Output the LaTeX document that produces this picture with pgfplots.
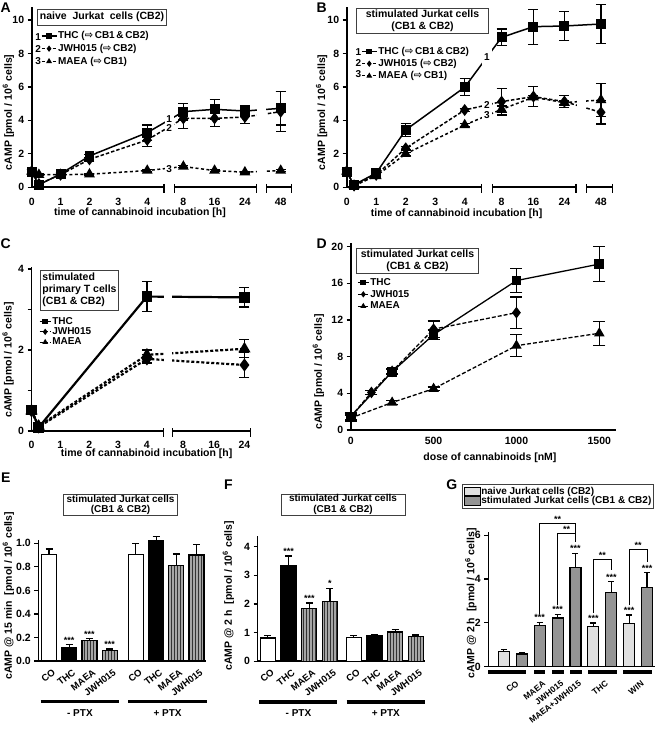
\documentclass[border=0pt]{standalone}
\usepackage{fontspec}
\setmainfont{Liberation Sans}
\newfontfamily\arrowfont{DejaVu Sans}
\usepackage{pgfplots}
\pgfplotsset{compat=1.18}
\usetikzlibrary{patterns}
\newcommand{\fs}[1]{\fontsize{#1}{#1}\selectfont\bfseries}

\pgfplotsset{
  base/.style={
    scale only axis, clip=false, axis lines*=left,
    axis line style={line width=1.6pt, black},
    tick align=outside, major tick length=4pt, minor tick length=4pt,
    tick style={line width=1.2pt, black},
    tick label style={font=\fs{10.5}},
    label style={font=\fs{10.5}},
    /pgf/number format/assume math mode=true,
    /pgf/number format/set thousands separator={},
    anchor=south west,
  },
  broken/.style={x axis line style={draw=none}, xtick style={draw=none}, xticklabel style={yshift=-3pt}},
  thc/.style={black, line width=1.5pt, mark=square*, mark size=4.2pt, mark options={solid, fill=black}},
  jwh/.style={black, line width=1.5pt, dash pattern=on 3.5pt off 2pt, mark=diamond*, mark size=4.8pt, mark options={solid, fill=black}},
  maea/.style={black, line width=1.5pt, dash pattern=on 3pt off 2.5pt, mark=triangle*, mark size=4.8pt, mark options={solid, fill=black}},
  eb/.style={error bars/.cd, y dir=both, y explicit, error bar style={line width=1.2pt, solid, black}, error mark options={rotate=90, line width=1.2pt, mark size=#1, black, solid}},
  eb/.default=5pt,
  ebp/.style={error bars/.cd, y dir=plus, y explicit, error bar style={line width=1.2pt, solid, black}, error mark options={rotate=90, line width=1.2pt, mark size=#1, black, solid}},
  ebp/.default=3.5pt,
  lg/.style 2 args={legend style={at={#1}, anchor=north west, draw=none, fill=none, inner sep=0pt, font=\fs{10}, row sep=#2, nodes={inner sep=1pt}}, legend cell align=left},
  limgA/.style={legend image code/.code={\draw[mark repeat=2,mark phase=2,##1] plot coordinates {(0pt,0pt) (7.5pt,0pt) (15pt,0pt)};}, legend image post style={mark size=2.3pt, line width=1.1pt}},
  limgC/.style={legend image code/.code={\draw[mark repeat=2,mark phase=2,##1] plot coordinates {(0pt,0pt) (5.5pt,0pt) (11pt,0pt)};}, legend image post style={mark size=2.3pt, line width=1.1pt}},
  barlab/.style={xtick style={draw=none}, xticklabel style={xshift=3pt, yshift=#1, rotate=38, anchor=north east, inner sep=1pt}},
}

\begin{document}
\begin{tikzpicture}
% ---------------- A ----------------
\begin{axis}[base, broken, at={(31.7pt,543.7pt)}, width=260pt, height=180.7pt,
  xmin=0, xmax=9, ymin=0, ymax=10.8,
  xtick={0,1,2,3,4,5.25,6.33,7.38,8.62}, xticklabels={0,1,2,3,4,8,16,24,48},
  ytick={0,2,4,6,8,10},
  xlabel={time of cannabinoid incubation [h]},
  xlabel style={at={(axis description cs:0.4165,-0.142)}, anchor=center},
  ylabel={cAMP [pmol / 10\textsuperscript{6} cells]},
  ylabel style={at={(axis description cs:-0.09,0.415)}, anchor=center},
  lg={(axis description cs:0.035,0.868)}{1.9pt}, limgA]
\addplot[thc, eb] coordinates {(0,0.9) +- (0,0.15) (0.25,0.15) +- (0,0.05) (1,0.8) +- (0,0.1) (2,1.87) +- (0,0.1) (4,3.27) +- (0,0.45) (5.25,4.52) +- (0,0.5) (6.33,4.66) +- (0,0.6) (7.38,4.56) +- (0,0.35) (8.62,4.72) +- (0,1.0)};
\addlegendentry{THC ({\arrowfont ⇨}\,CB1\,\&\,CB2)}
\addplot[jwh, eb] coordinates {(0,0.95) +- (0,0.1) (0.25,0.2) +- (0,0.05) (1,0.75) +- (0,0.1) (2,1.67) +- (0,0.1) (4,2.83) +- (0,0.4) (5.25,4.12) +- (0,0.6) (6.33,4.12) +- (0,0.5) (7.38,4.2) +- (0,0.4) (8.62,4.52) +- (0,1.2)};
\addlegendentry{JWH015 ({\arrowfont ⇨}\,CB2)}
\addplot[maea, eb] coordinates {(0,0.95) +- (0,0.1) (0.25,0.75) +- (0,0.05) (1,0.75) +- (0,0.05) (2,0.78) +- (0,0.05) (4,1.0) +- (0,0.05) (5.25,1.24) +- (0,0.05) (6.33,1.0) +- (0,0.05) (7.38,0.9) +- (0,0.05) (8.62,1.0) +- (0,0.05)};
\addlegendentry{MAEA ({\arrowfont ⇨}\,CB1)}
\fill[white] (axis cs:4.6,-0.6) rectangle (axis cs:4.91,9);
\fill[white] (axis cs:7.79,-0.6) rectangle (axis cs:8.11,9);
\draw[line width=1.6pt] (axis cs:0,0) -- (axis cs:4.58,0);
\draw[line width=1.6pt] (axis cs:4.93,0) -- (axis cs:7.77,0);
\draw[line width=1.6pt] (axis cs:8.13,0) -- (axis cs:9,0);
\draw[line width=1.2pt] (axis cs:4.58,0.2) -- (axis cs:4.58,-0.35);
\draw[line width=1.2pt] (axis cs:4.93,0.2) -- (axis cs:4.93,-0.35);
\draw[line width=1.2pt] (axis cs:7.77,0.2) -- (axis cs:7.77,-0.35);
\draw[line width=1.2pt] (axis cs:8.13,0.2) -- (axis cs:8.13,-0.35);
\draw[line width=1.2pt] (axis cs:9,0.2) -- (axis cs:9,-0.35);
\node[font=\fs{10}] at (axis cs:4.76,4.08) {1};
\node[font=\fs{10}] at (axis cs:4.76,3.55) {2};
\node[font=\fs{10}] at (axis cs:4.76,1.09) {3};
\node[font=\fs{10}] at (axis description cs:0.025,0.83) {1};
\node[font=\fs{10}] at (axis description cs:0.025,0.765) {2};
\node[font=\fs{10}] at (axis description cs:0.025,0.699) {3};
\end{axis}

% ---------------- B ----------------
\begin{axis}[base, broken, at={(346.7pt,543.7pt)}, width=265.5pt, height=180.7pt,
  xmin=0, xmax=9, ymin=0, ymax=10.8,
  xtick={0,1,2,3,4,5.25,6.33,7.38,8.62}, xticklabels={0,1,2,3,4,8,16,24,48},
  ytick={0,2,4,6,8,10},
  xlabel={time of cannabinoid incubation [h]},
  xlabel style={at={(axis description cs:0.414,-0.144)}, anchor=center},
  ylabel={cAMP [pmol / 10\textsuperscript{6} cells]},
  ylabel style={at={(axis description cs:-0.094,0.415)}, anchor=center},
  lg={(axis description cs:0.054,0.782)}{1.4pt}, limgA]
\addplot[thc, eb] coordinates {(0,0.9) +- (0,0.15) (0.25,0.15) +- (0,0.05) (1,0.85) +- (0,0.15) (2,3.43) +- (0,0.4) (4,5.98) +- (0,0.5) (5.25,8.96) +- (0,0.5) (6.33,9.6) +- (0,1.05) (7.38,9.64) +- (0,0.85) (8.62,9.76) +- (0,1.17)};
\addlegendentry{THC ({\arrowfont ⇨}\,CB1\,\&\,CB2)}
\addplot[jwh, eb] coordinates {(0,0.95) +- (0,0.1) (0.25,0.1) +- (0,0.05) (1,0.74) +- (0,0.1) (2,2.33) +- (0,0.1) (4,4.62) +- (0,0.1) (5.25,5.12) +- (0,0.8) (6.33,5.42) +- (0,0.6) (7.38,5.12) +- (0,0.35) (8.62,4.48) +- (0,0.7)};
\addlegendentry{JWH015 ({\arrowfont ⇨}\,CB2)}
\addplot[maea, eb] coordinates {(0,0.95) +- (0,0.1) (0.25,0.1) +- (0,0.05) (1,0.68) +- (0,0.1) (2,2.0) +- (0,0.1) (4,3.72) +- (0,0.1) (5.25,4.66) +- (0,0.2) (6.33,5.38) +- (0,0.1) (7.38,5.06) +- (0,0.1) (8.62,5.22) +- (0,1.0)};
\addlegendentry{MAEA ({\arrowfont ⇨}\,CB1)}
\fill[white] (axis cs:4.6,-0.6) rectangle (axis cs:4.91,9);
\fill[white] (axis cs:7.79,-0.6) rectangle (axis cs:8.11,9);
\draw[line width=1.6pt] (axis cs:0,0) -- (axis cs:4.58,0);
\draw[line width=1.6pt] (axis cs:4.93,0) -- (axis cs:7.77,0);
\draw[line width=1.6pt] (axis cs:8.13,0) -- (axis cs:9,0);
\draw[line width=1.2pt] (axis cs:4.58,0.2) -- (axis cs:4.58,-0.35);
\draw[line width=1.2pt] (axis cs:4.93,0.2) -- (axis cs:4.93,-0.35);
\draw[line width=1.2pt] (axis cs:7.77,0.2) -- (axis cs:7.77,-0.35);
\draw[line width=1.2pt] (axis cs:8.13,0.2) -- (axis cs:8.13,-0.35);
\draw[line width=1.2pt] (axis cs:9,0.2) -- (axis cs:9,-0.35);
\node[font=\fs{10}] at (axis cs:4.75,7.8) {1};
\node[font=\fs{10}] at (axis cs:4.75,4.92) {2};
\node[font=\fs{10}] at (axis cs:4.75,4.32) {3};
\node[font=\fs{10}] at (axis description cs:0.044,0.747) {1};
\node[font=\fs{10}] at (axis description cs:0.044,0.69) {2};
\node[font=\fs{10}] at (axis description cs:0.044,0.625) {3};
\end{axis}

% ---------------- C ----------------
\begin{axis}[base, broken, at={(31.5pt,300pt)}, width=219.3pt, height=164.4pt,
  xmin=0, xmax=7.6, ymin=0, ymax=4.06,
  xtick={0,1,2,3,4,5.25,6.33,7.38}, xticklabels={0,1,2,3,4,8,16,24},
  ytick={0,2,4}, minor ytick={1,3},
  xlabel={time of cannabinoid incubation [h]},
  xlabel style={at={(axis description cs:0.525,-0.136)}, anchor=center},
  ylabel={cAMP [pmol / 10\textsuperscript{6} cells]},
  ylabel style={at={(axis description cs:-0.106,0.432)}, anchor=center},
  lg={(axis description cs:0.034,0.70)}{0pt}, limgC]
\addplot[thc, line width=2.2pt, eb] coordinates {(0,0.52) +- (0,0.05) (0.25,0.09) +- (0,0.03) (4,3.32) +- (0,0.37) (7.38,3.3) +- (0,0.24)};
\addlegendentry{THC}
\addplot[jwh, line width=2.2pt, dash pattern=on 3pt off 2pt, eb] coordinates {(0,0.5) +- (0,0.03) (0.25,0.1) +- (0,0.03) (4,1.78) +- (0,0.1) (7.38,1.63) +- (0,0.3)};
\addlegendentry{JWH015}
\addplot[maea, line width=2.2pt, dash pattern=on 3pt off 2pt, eb] coordinates {(0,0.5) +- (0,0.03) (0.25,0.12) +- (0,0.03) (4,1.88) +- (0,0.12) (7.38,2.03) +- (0,0.22)};
\addlegendentry{MAEA}
\fill[white] (axis cs:4.6,-0.2) rectangle (axis cs:4.86,3.9);
\draw[line width=1.6pt] (axis cs:0,0) -- (axis cs:4.58,0);
\draw[line width=1.6pt] (axis cs:4.88,0) -- (axis cs:7.6,0);
\draw[line width=1.2pt] (axis cs:4.58,0.07) -- (axis cs:4.58,-0.15);
\draw[line width=1.2pt] (axis cs:4.88,0.07) -- (axis cs:4.88,-0.15);
\draw[line width=1.2pt] (axis cs:7.6,0.07) -- (axis cs:7.6,-0.15);
\end{axis}

% ---------------- D ----------------
\begin{axis}[base, at={(350.7pt,301pt)}, width=265.2pt, height=187pt,
  xmin=0, xmax=1600, ymin=0, ymax=20.4,
  xtick={0,500,1000,1500}, ytick={0,4,8,12,16,20}, xtick style={draw=none},
  xlabel={dose of cannabinoids [nM]},
  xlabel style={at={(axis description cs:0.525,-0.151)}, anchor=center},
  ylabel={cAMP [pmol / 10\textsuperscript{6} cells]},
  ylabel style={at={(axis description cs:-0.122,0.31)}, anchor=center},
  lg={(axis description cs:0.024,0.818)}{1.4pt}, limgC]
\addplot[thc, line width=1.3pt, eb=6pt] coordinates {(0,1.45) +- (0,0.5) (250,6.36) +- (0,0.3) (500,10.4) +- (0,0.5) (1000,16.3) +- (0,1.3) (1500,18.1) +- (0,1.9)};
\addlegendentry{THC}
\addplot[jwh, line width=1.3pt, dash pattern=on 4pt off 2pt, eb=6pt] coordinates {(0,1.45) +- (0,0.3) (125,4.1) +- (0,0.2) (250,6.4) +- (0,0.3) (500,11.0) +- (0,0.9) (1000,12.8) +- (0,1.7)};
\addlegendentry{JWH015}
\addplot[maea, line width=1.3pt, dash pattern=on 4pt off 2pt, eb=6pt] coordinates {(0,1.3) +- (0,0.3) (250,3.0) +- (0,0.2) (500,4.5) +- (0,0.2) (1000,9.2) +- (0,1.2) (1500,10.55) +- (0,1.3)};
\addlegendentry{MAEA}
\end{axis}

% ---------------- E ----------------
\begin{axis}[base, at={(38.3pt,70pt)}, width=167.3pt, height=121.2pt,
  xmin=-0.53, xmax=7.75, ymin=0, ymax=1.03,
  xtick={0,1,2,3,4.3,5.3,6.3,7.3}, xticklabels={CO,THC,MAEA,JWH015,CO,THC,MAEA,JWH015},
  barlab=-2pt, xticklabel style={font=\fs{9.5}},
  ytick={0,0.2,0.4,0.6,0.8,1}, yticklabel style={/pgf/number format/.cd, fixed, fixed zerofill, precision=1},
  ylabel={cAMP @ 15 min\ \ [pmol / 10\textsuperscript{6} cells]},
  ylabel style={at={(axis description cs:-0.179,0.539)}, anchor=center},
  /pgf/bar width=15pt, /pgf/bar shift=0pt]
\addplot[ybar, draw=black, line width=1.2pt, fill=white, ebp] coordinates {(0,0.906) +- (0,0.045) (4.3,0.906) +- (0,0.09)};
\addplot[ybar, draw=black, line width=1.2pt, fill=black, ebp] coordinates {(1,0.113) +- (0,0.025) (5.3,1.02) +- (0,0.04)};
\addplot[ybar, draw=black, line width=1.2pt, fill=black!35, postaction={pattern=vertical lines, pattern color=black!80}, ebp] coordinates {(2,0.173) +- (0,0.015) (3,0.088) +- (0,0.014) (6.3,0.81) +- (0,0.1) (7.3,0.90) +- (0,0.09)};
\node[font=\fs{9}, anchor=south, inner sep=1pt] at (axis cs:1,0.14) {***};
\node[font=\fs{9}, anchor=south, inner sep=1pt] at (axis cs:2,0.19) {***};
\node[font=\fs{9}, anchor=south, inner sep=1pt] at (axis cs:3,0.104) {***};
\draw[line width=3.5pt] (axis cs:-0.41,-0.346) -- (axis cs:3.48,-0.346);
\draw[line width=3.5pt] (axis cs:3.93,-0.346) -- (axis cs:7.8,-0.346);
\node[font=\fs{10}, anchor=north] at (axis cs:1.53,-0.38) {- PTX};
\node[font=\fs{10}, anchor=north] at (axis cs:5.87,-0.38) {+ PTX};
\end{axis}

% ---------------- F ----------------
\begin{axis}[base, at={(257.5pt,69.7pt)}, width=167.7pt, height=124.8pt,
  xmin=-0.5, xmax=7.6, ymin=0, ymax=4.35,
  xtick={0,1,2,3,4.15,5.15,6.15,7.15}, xticklabels={CO,THC,MAEA,JWH015,CO,THC,MAEA,JWH015},
  barlab=-2pt, xticklabel style={font=\fs{9.5}},
  ytick={0,1,2,3,4},
  ylabel={cAMP @ 2 h\ \ [pmol / 10\textsuperscript{6} cells]},
  ylabel style={at={(axis description cs:-0.174,0.526)}, anchor=center},
  /pgf/bar width=15pt, /pgf/bar shift=0pt]
\addplot[ybar, draw=black, line width=1.2pt, fill=white, ebp] coordinates {(0,0.81) +- (0,0.08) (4.15,0.83) +- (0,0.07)};
\addplot[ybar, draw=black, line width=1.2pt, fill=black, ebp] coordinates {(1,3.35) +- (0,0.32) (5.15,0.88) +- (0,0.05)};
\addplot[ybar, draw=black, line width=1.2pt, fill=black!35, postaction={pattern=vertical lines, pattern color=black!80}, ebp] coordinates {(2,1.85) +- (0,0.18) (3,2.08) +- (0,0.45) (6.15,1.02) +- (0,0.08) (7.15,0.86) +- (0,0.06)};
\node[font=\fs{9}, anchor=south, inner sep=1pt] at (axis cs:1,3.69) {***};
\node[font=\fs{9}, anchor=south, inner sep=1pt] at (axis cs:2,2.05) {***};
\node[font=\fs{9}, anchor=south, inner sep=1pt] at (axis cs:3,2.55) {*};
\draw[line width=3.5pt] (axis cs:-0.41,-1.41) -- (axis cs:3.36,-1.41);
\draw[line width=3.5pt] (axis cs:3.81,-1.41) -- (axis cs:7.6,-1.41);
\node[font=\fs{10}, anchor=north] at (axis cs:1.48,-1.57) {- PTX};
\node[font=\fs{10}, anchor=north] at (axis cs:5.7,-1.57) {+ PTX};
\end{axis}

% ---------------- G ----------------
\begin{axis}[base, at={(488.3pt,64.3pt)}, width=166.8pt, height=135pt,
  xmin=-0.87, xmax=8.45, ymin=0, ymax=6.16,
  xtick={0.5,2,3,4,5.5,7.5}, xticklabels={CO,MAEA,JWH015,MAEA+JWH015,THC,WIN},
  barlab=-8pt, xticklabel style={font=\fs{8.5}},
  ytick={0,2,4,6},
  ylabel={cAMP @ 2 h\ \ [pmol / 10\textsuperscript{6} cells]},
  ylabel style={at={(axis description cs:-0.105,0.47)}, anchor=center},
  /pgf/bar width=11pt, /pgf/bar shift=0pt,
  legend style={at={(axis description cs:-0.16,1.353)}, anchor=north west, draw=black!75, line width=0.8pt, fill=white, font=\fs{10}, inner sep=1.5pt, row sep=-1pt, nodes={inner sep=1pt}},
  legend cell align=left,
  legend image code/.code={\draw[#1, line width=0.8pt] (0pt,-4.2pt) rectangle (16pt,4.2pt);}]
\addplot[ybar, draw=black, line width=1.1pt, fill=black!12, ebp=3pt] coordinates {(0,0.70) +- (0,0.1) (5,1.83) +- (0,0.16) (7,1.98) +- (0,0.38)};
\addlegendentry{naive Jurkat cells (CB2)}
\addplot[ybar, draw=black, line width=1.1pt, fill=black!42, ebp=3pt] coordinates {(1,0.58) +- (0,0.08) (2,1.9) +- (0,0.13) (3,2.22) +- (0,0.16) (4,4.54) +- (0,0.62) (6,3.39) +- (0,0.49) (8,3.61) +- (0,0.67)};
\addlegendentry{stimulated Jurkat cells (CB1 \& CB2)}
\node[font=\fs{9}, anchor=south, inner sep=1pt] at (axis cs:2,2.05) {***};
\node[font=\fs{9}, anchor=south, inner sep=1pt] at (axis cs:3,2.4) {***};
\node[font=\fs{9}, anchor=south, inner sep=1pt] at (axis cs:4,5.18) {***};
\node[font=\fs{9}, anchor=south, inner sep=1pt] at (axis cs:5,2.01) {***};
\node[font=\fs{9}, anchor=south, inner sep=1pt] at (axis cs:6,3.9) {***};
\node[font=\fs{9}, anchor=south, inner sep=1pt] at (axis cs:7,2.38) {***};
\node[font=\fs{9}, anchor=south, inner sep=1pt] at (axis cs:8,4.3) {***};
\draw[line width=0.9pt] (axis cs:2,2.4) -- (axis cs:2,6.52) -- (axis cs:4,6.52) -- (axis cs:4,5.71);
\draw[line width=0.9pt] (axis cs:3,2.8) -- (axis cs:3,6.06) -- (axis cs:4,6.06) -- (axis cs:4,5.71);
\draw[line width=0.9pt] (axis cs:5,2.45) -- (axis cs:5,4.9) -- (axis cs:6,4.9) -- (axis cs:6,4.4);
\draw[line width=0.9pt] (axis cs:7,2.8) -- (axis cs:7,5.33) -- (axis cs:8,5.33) -- (axis cs:8,4.8);
\node[font=\fs{9}, anchor=south, inner sep=1pt] at (axis cs:3,6.52) {**};
\node[font=\fs{9}, anchor=south, inner sep=1pt] at (axis cs:3.5,6.06) {**};
\node[font=\fs{9}, anchor=south, inner sep=1pt] at (axis cs:5.5,4.9) {**};
\node[font=\fs{9}, anchor=south, inner sep=1pt] at (axis cs:7.5,5.33) {**};
\draw[line width=3.5pt] (axis cs:-0.87,-0.24) -- (axis cs:1.25,-0.24);
\draw[line width=3.5pt] (axis cs:1.71,-0.24) -- (axis cs:2.3,-0.24);
\draw[line width=3.5pt] (axis cs:2.7,-0.24) -- (axis cs:3.35,-0.24);
\draw[line width=3.5pt] (axis cs:3.7,-0.24) -- (axis cs:4.35,-0.24);
\draw[line width=3.5pt] (axis cs:4.72,-0.24) -- (axis cs:6.3,-0.24);
\draw[line width=3.5pt] (axis cs:6.67,-0.24) -- (axis cs:8.25,-0.24);
\end{axis}

% ---------------- boxes and panel letters ----------------
\node[draw=black!75, line width=0.8pt, minimum width=129.4pt, minimum height=16pt, inner sep=0pt, font=\fs{10.5}] at (102pt,714pt) {naive~~Jurkat~~cells (CB2)};
\node[draw=black!75, line width=0.8pt, minimum width=131.6pt, minimum height=25pt, inner sep=0pt, align=center, font=\fontsize{10.5}{11.5}\selectfont\bfseries] at (422.5pt,710.2pt) {stimulated Jurkat cells\\(CB1 \& CB2)};
\node[draw=black!75, line width=0.8pt, minimum width=77.6pt, minimum height=40pt, inner sep=2pt, align=left, font=\fontsize{10.5}{12}\selectfont\bfseries] at (79.5pt,441pt) {stimulated\\primary T cells\\(CB1 \& CB2)};
\node[draw=black!75, line width=0.8pt, minimum width=121.6pt, minimum height=25pt, inner sep=0pt, align=center, font=\fontsize{10.5}{11.5}\selectfont\bfseries] at (417.5pt,470.2pt) {stimulated Jurkat cells\\(CB1 \& CB2)};
\node[draw=black!75, line width=0.8pt, minimum width=114.4pt, minimum height=20.5pt, inner sep=0pt, align=center, font=\fontsize{10}{10.5}\selectfont\bfseries] at (120.5pt,226pt) {stimulated Jurkat cells\\(CB1 \& CB2)};
\node[draw=black!75, line width=0.8pt, minimum width=124pt, minimum height=21pt, inner sep=0pt, align=center, font=\fontsize{10}{10.5}\selectfont\bfseries] at (343pt,226.5pt) {stimulated Jurkat cells\\(CB1 \& CB2)};
\node[font=\fs{14}] at (5.8pt,723pt) {A};
\node[font=\fs{14}] at (321.7pt,723pt) {B};
\node[font=\fs{14}] at (5.8pt,487pt) {C};
\node[font=\fs{14}] at (321.7pt,487pt) {D};
\node[font=\fs{14}] at (5.8pt,253pt) {E};
\node[font=\fs{14}] at (228.3pt,246pt) {F};
\node[font=\fs{14}] at (451.7pt,246pt) {G};
\pgfresetboundingbox
\path[use as bounding box] (0,0) rectangle (656pt,731pt);
\end{tikzpicture}
\end{document}
